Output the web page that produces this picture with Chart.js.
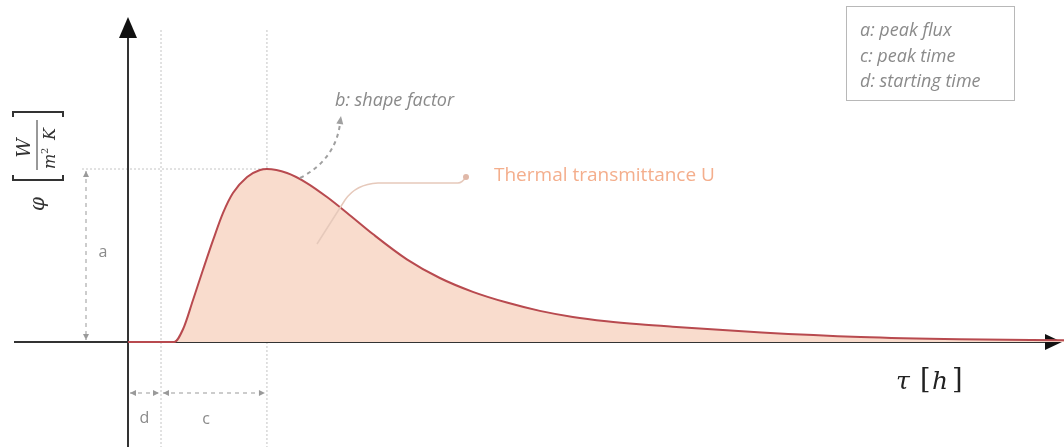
<!DOCTYPE html>
<html>
<head>
<meta charset="utf-8">
<script src="https://cdn.jsdelivr.net/npm/chart.js@4/dist/chart.umd.min.js"></script>
<style>
  html, body { margin: 0; padding: 0; background: #fff; }
  #wrap { width: 1064px; height: 447px; position: relative; }
</style>
</head>
<body>
<div id="wrap"><canvas id="chart"></canvas></div>
<script>
// time in hours and heat flux (relative to peak)
const hours = [0, 1, 1.4, 1.67, 1.97, 2.27, 2.58, 2.88, 3.18, 3.61, 4.0, 4.21, 4.82, 5.42, 6.03, 6.64, 7.42, 8.45, 9.45, 10.45, 11.48, 12.48, 13.48, 14.5, 15.5, 16.5, 19.2, 22.2, 25.2, 28.4];
const flux = [0, 0, 0, 0.075, 0.243, 0.416, 0.59, 0.746, 0.861, 0.954, 0.994, 1.0, 0.977, 0.919, 0.838, 0.746, 0.624, 0.478, 0.37, 0.29, 0.228, 0.18, 0.145, 0.12, 0.102, 0.088, 0.055, 0.029, 0.016, 0.01];

const startTime = 1.0;   // d
const legendLines = ['a: peak flux', 'c: peak time', 'd: starting time'];
const seriesLabel = 'Thermal transmittance U';
const shapeLabel = 'b: shape factor';

const peakIdx = flux.indexOf(Math.max(...flux));
const peakTime = hours[peakIdx];
const peakFlux = flux[peakIdx];

const sans = "'Open Sans', 'DejaVu Sans', sans-serif";
const serif = "'DejaVu Serif', 'Liberation Serif', serif";

function arrowHead(ctx, x, y, ang, len, w) {
  ctx.save();
  ctx.translate(x, y);
  ctx.rotate(ang);
  ctx.beginPath();
  ctx.moveTo(0, 0);
  ctx.lineTo(-len, -w / 2);
  ctx.lineTo(-len, w / 2);
  ctx.closePath();
  ctx.fill();
  ctx.restore();
}

function dimArrow(ctx, x1, y1, x2, y2) {
  ctx.save();
  ctx.strokeStyle = '#9a9a9a';
  ctx.fillStyle = '#9a9a9a';
  ctx.lineWidth = 1;
  ctx.setLineDash([4, 4]);
  ctx.beginPath();
  ctx.moveTo(x1, y1);
  ctx.lineTo(x2, y2);
  ctx.stroke();
  ctx.setLineDash([]);
  const ang = Math.atan2(y2 - y1, x2 - x1);
  arrowHead(ctx, x2, y2, ang, 6, 6);
  arrowHead(ctx, x1, y1, ang + Math.PI, 6, 6);
  ctx.restore();
}

const backdrop = {
  id: 'backdrop',
  beforeDatasetsDraw(chart) {
    const { ctx, scales: { x, y } } = chart;
    const x0 = x.getPixelForValue(0);
    const y0 = y.getPixelForValue(0);
    const xd = x.getPixelForValue(startTime);
    const xp = x.getPixelForValue(peakTime);
    const yp = y.getPixelForValue(peakFlux);
    ctx.save();
    // dotted guide lines
    ctx.strokeStyle = '#c4c4c4';
    ctx.lineWidth = 1;
    ctx.setLineDash([2, 2]);
    [xd, xp].forEach(px => {
      ctx.beginPath();
      ctx.moveTo(px, 30);
      ctx.lineTo(px, chart.height);
      ctx.stroke();
    });
    ctx.beginPath();
    ctx.moveTo(82, yp);
    ctx.lineTo(xp, yp);
    ctx.stroke();
    ctx.setLineDash([]);

    // axes
    ctx.strokeStyle = '#333';
    ctx.fillStyle = '#111';
    ctx.lineWidth = 2;
    ctx.beginPath();
    ctx.moveTo(14, y0);
    ctx.lineTo(1048, y0);
    ctx.stroke();
    arrowHead(ctx, 1062, y0, 0, 17, 16);
    ctx.beginPath();
    ctx.moveTo(x0, chart.height);
    ctx.lineTo(x0, 36);
    ctx.stroke();
    arrowHead(ctx, x0, 17, -Math.PI / 2, 21, 18);
    ctx.restore();
  },
  afterDatasetsDraw(chart) {
    const { ctx, scales: { x, y } } = chart;
    const x0 = x.getPixelForValue(0);
    const y0 = y.getPixelForValue(0);
    const xd = x.getPixelForValue(startTime);
    const xp = x.getPixelForValue(peakTime);
    const yp = y.getPixelForValue(peakFlux);
    ctx.save();

    // a: peak flux
    dimArrow(ctx, 86, yp + 2, 86, y0 - 2);
    // d and c along the bottom
    dimArrow(ctx, x0 + 2, 393, xd - 2, 393);
    dimArrow(ctx, xd + 2, 393, xp - 2, 393);

    ctx.fillStyle = '#8a8a8a';
    ctx.font = '16px ' + sans;
    ctx.textAlign = 'center';
    ctx.textBaseline = 'middle';
    ctx.fillText('a', 103, 252);
    ctx.fillText('d', (x0 + xd) / 2, 418);
    ctx.fillText('c', (xd + xp) / 2 - 8, 419);

    // b: shape factor with curved dashed arrow
    ctx.strokeStyle = '#a0a0a0';
    ctx.fillStyle = '#a0a0a0';
    ctx.lineWidth = 2;
    ctx.setLineDash([4, 4]);
    ctx.beginPath();
    ctx.moveTo(300, 178);
    ctx.quadraticCurveTo(335, 160, 340, 124);
    ctx.stroke();
    ctx.setLineDash([]);
    arrowHead(ctx, 341, 116, -Math.PI / 2 + 0.15, 8, 7);
    ctx.font = 'italic 18px ' + sans;
    ctx.textAlign = 'left';
    ctx.fillStyle = '#8a8a8a';
    ctx.fillText(shapeLabel, 335, 101);

    // series call-out
    ctx.strokeStyle = '#e6c9bb';
    ctx.lineWidth = 1.5;
    ctx.beginPath();
    ctx.moveTo(317, 244);
    ctx.lineTo(345, 200);
    ctx.quadraticCurveTo(356, 184, 378, 183);
    ctx.lineTo(458, 183);
    ctx.quadraticCurveTo(462, 183, 466, 177);
    ctx.stroke();
    ctx.fillStyle = '#e0b8a8';
    ctx.beginPath();
    ctx.arc(466, 177, 3, 0, Math.PI * 2);
    ctx.fill();
    ctx.fillStyle = '#f4ae8c';
    ctx.font = '19px ' + sans;
    ctx.fillText(seriesLabel, 494, 176);

    // legend box
    ctx.strokeStyle = '#b8b8b8';
    ctx.lineWidth = 1;
    ctx.strokeRect(846.5, 6.5, 168, 94);
    ctx.fillStyle = '#8a8a8a';
    ctx.font = 'italic 18px ' + sans;
    legendLines.forEach((t, i) => ctx.fillText(t, 860, 31 + i * 25.5));

    // x axis title
    ctx.fillStyle = '#222';
    ctx.font = 'italic 25px ' + serif;
    ctx.fillText('\u03C4', 896, 382);
    ctx.font = '27px ' + serif;
    ctx.fillText('[', 920, 381);
    ctx.font = 'italic 25px ' + serif;
    ctx.fillText('h', 932, 382);
    ctx.font = '27px ' + serif;
    ctx.fillText(']', 952, 381);

    // y axis title: phi [W / (m^2 K)], rotated
    ctx.translate(38, 160);
    ctx.rotate(-Math.PI / 2);
    ctx.fillStyle = '#333';
    ctx.strokeStyle = '#333';
    ctx.textAlign = 'center';
    ctx.font = 'italic 20px ' + serif;
    ctx.fillText('\u03C6', -44, 1);
    ctx.lineWidth = 2;
    ctx.beginPath();
    ctx.moveTo(-15, -25); ctx.lineTo(-20, -25); ctx.lineTo(-20, 25); ctx.lineTo(-15, 25);
    ctx.moveTo(43, -25); ctx.lineTo(48, -25); ctx.lineTo(48, 25); ctx.lineTo(43, 25);
    ctx.stroke();
    ctx.lineWidth = 1;
    ctx.beginPath();
    ctx.moveTo(-10, -1); ctx.lineTo(40, -1);
    ctx.stroke();
    ctx.font = 'italic 19px ' + serif;
    ctx.fillText('W', 12, -13);
    ctx.font = 'italic 16px ' + serif;
    ctx.textAlign = 'left';
    ctx.fillText('m', -9, 13);
    ctx.font = '10px ' + serif;
    ctx.fillText('2', 6, 7);
    ctx.font = 'italic 16px ' + serif;
    ctx.fillText('K', 20, 13);

    ctx.restore();
  }
};

new Chart(document.getElementById('chart'), {
  type: 'line',
  data: {
    labels: hours,
    datasets: [{
      label: seriesLabel,
      data: hours.map((h, i) => ({ x: h, y: flux[i] })),
      borderColor: '#b84a4f',
      borderWidth: 2,
      backgroundColor: '#f9dccd',
      fill: 'origin',
      pointRadius: 0,
      cubicInterpolationMode: 'monotone'
    }]
  },
  options: {
    responsive: true,
    maintainAspectRatio: false,
    animation: false,
    layout: { padding: 0 },
    plugins: { legend: { display: false }, tooltip: { enabled: false } },
    scales: {
      x: { type: 'linear', display: false, min: -3.879, max: 28.364 },
      y: { display: false, min: -0.607, max: 1.977 }
    }
  },
  plugins: [backdrop]
});
</script>
</body>
</html>
